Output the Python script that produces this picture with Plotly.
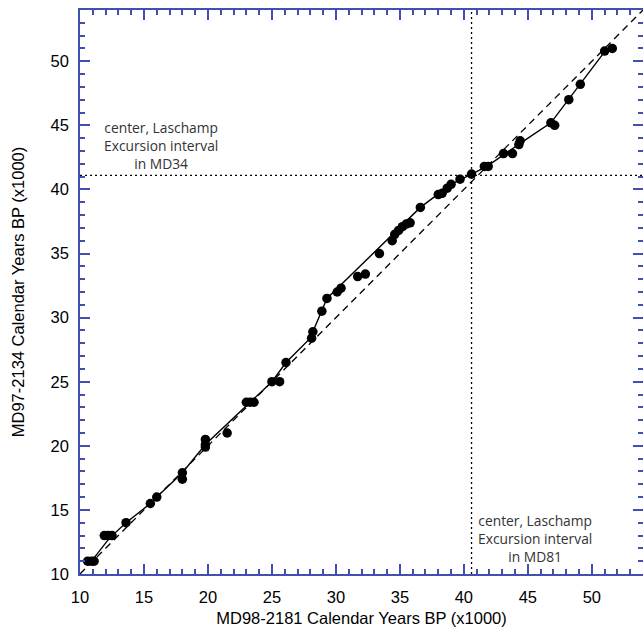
import plotly.graph_objects as go

# Tie points (MD98-2181 age, MD97-2134 age), x1000 years BP
x_md98 = [10.6, 10.9, 11.1, 11.9, 12.2, 12.5, 13.6, 15.5, 16.0, 18.0, 18.0,
          19.8, 19.8, 19.8, 21.5, 23.0, 23.3, 23.6, 25.0, 25.6, 26.1, 28.1,
          28.2, 28.9, 29.3, 30.1, 30.4, 31.7, 32.3, 33.4, 34.4, 34.6, 34.9,
          35.2, 35.5, 35.8, 36.6, 38.0, 38.3, 38.7, 39.0, 39.7, 40.6, 41.6,
          41.9, 43.1, 43.8, 44.3, 44.4, 46.8, 47.1, 48.2, 49.1, 51.0, 51.6]
y_md97 = [11.0, 11.0, 11.0, 13.0, 13.0, 13.0, 14.0, 15.5, 16.0, 17.9, 17.4,
          20.5, 20.1, 19.9, 21.0, 23.4, 23.4, 23.4, 25.0, 25.0, 26.5, 28.4,
          28.9, 30.5, 31.5, 32.0, 32.3, 33.2, 33.4, 35.0, 36.0, 36.5, 36.8,
          37.1, 37.3, 37.4, 38.6, 39.6, 39.7, 40.1, 40.4, 40.8, 41.2, 41.8,
          41.8, 42.8, 42.8, 43.5, 43.8, 45.2, 45.0, 47.0, 48.2, 50.8, 51.0]

# Age-model line
line_x = [10.9, 12.3, 13.6, 15.5, 16.0, 18.0, 19.8, 23.3, 25.0, 26.1, 28.0,
          28.2, 28.9, 29.3, 36.6, 39.0, 40.6, 41.8, 44.4, 46.8, 51.2]
line_y = [11.0, 12.8, 14.0, 15.5, 16.0, 17.9, 20.1, 23.4, 25.0, 26.5, 28.4,
          28.9, 30.5, 31.5, 38.6, 40.4, 41.2, 41.8, 43.6, 45.2, 51.0]

one_to_one = [10, 54]
laschamp_md34 = 41.1
laschamp_md81 = 40.6

AXIS_RANGE = [10, 54]
BLUE = "#4150B0"

fig = go.Figure()
fig.add_trace(go.Scatter(x=one_to_one, y=one_to_one, mode="lines",
                         line=dict(color="black", width=1.3, dash="7px,5px"),
                         hoverinfo="skip", showlegend=False))
fig.add_trace(go.Scatter(x=line_x, y=line_y, mode="lines",
                         line=dict(color="black", width=1.4),
                         showlegend=False))
fig.add_trace(go.Scatter(x=x_md98, y=y_md97, mode="markers",
                         marker=dict(color="black", size=9.5, symbol="circle"),
                         showlegend=False))

fig.add_hline(y=laschamp_md34, line=dict(color="black", width=1.3, dash="2px,3px"))
fig.add_vline(x=laschamp_md81, line=dict(color="black", width=1.3, dash="2px,3px"))

ann_font = dict(family="Open Sans", size=13.8, color="#333333")
fig.add_annotation(x=16.3, y=43.4, text="center, Laschamp<br>Excursion interval<br>in MD34",
                   showarrow=False, font=ann_font, align="center")
fig.add_annotation(x=45.55, y=12.74, text="center, Laschamp<br>Excursion interval<br>in MD81",
                   showarrow=False, font=ann_font, align="center")

axis_common = dict(
    range=AXIS_RANGE, dtick=5, tick0=10,
    showline=True, linecolor=BLUE, linewidth=1.5,
    ticks="inside", ticklen=10, tickwidth=1.5, tickcolor=BLUE,
    minor=dict(dtick=1, ticks="inside", ticklen=5, tickwidth=1.5, tickcolor=BLUE, showgrid=False),
    mirror="ticks", showgrid=False, zeroline=False, automargin=False,
    tickfont=dict(family="Liberation Sans, Arial", size=16.5, color="black"),
)

fig.update_xaxes(**axis_common,
                 title=dict(text="MD98-2181 Calendar Years BP (x1000)",
                            font=dict(family="Liberation Sans, Arial", size=16.5, color="black"),
                            standoff=10),
                 ticklabelstandoff=7)
fig.update_yaxes(**axis_common,
                 title=dict(text="MD97-2134 Calendar Years BP (x1000)",
                            font=dict(family="Liberation Sans, Arial", size=16.5, color="black"),
                            standoff=22),
                 ticklabelstandoff=6)

fig.update_layout(
    width=643, height=627,
    margin=dict(l=80, r=0, t=10, b=53),
    paper_bgcolor="white", plot_bgcolor="white",
    font=dict(family="Liberation Sans, Arial", color="black"),
)

fig.write_html("out.html")
